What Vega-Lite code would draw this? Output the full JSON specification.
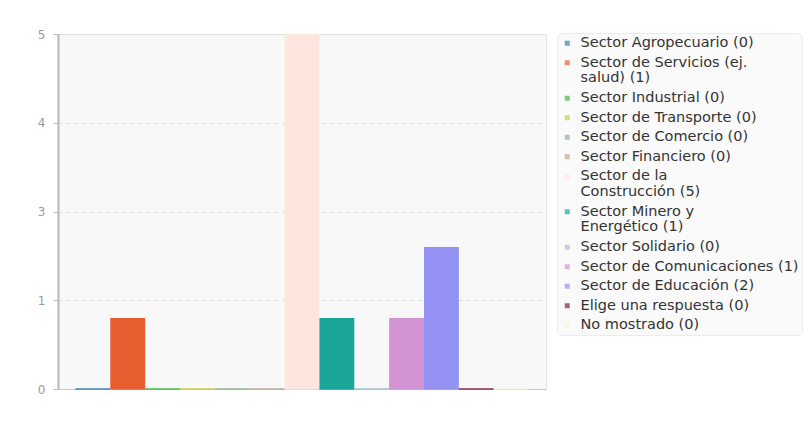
{
  "$schema": "https://vega.github.io/schema/vega-lite/v6.json",
  "autosize": {"type": "none"},
  "width": 488,
  "height": 355,
  "padding": {"left": 58, "top": 34, "right": 265, "bottom": 55},
  "background": "#ffffff",
  "config": {
    "font": "DejaVu Sans",
    "view": {"fill": "#f8f8f8", "stroke": "#e2e2e2", "strokeWidth": 1},
    "style": {"guide-label": {"lineHeight": 15.5}}
  },
  "data": {
    "values": [
      {"sector": "Sector Agropecuario (0)", "cantidad": 0},
      {"sector": "Sector de Servicios (ej. salud) (1)", "cantidad": 1},
      {"sector": "Sector Industrial (0)", "cantidad": 0},
      {"sector": "Sector de Transporte (0)", "cantidad": 0},
      {"sector": "Sector de Comercio (0)", "cantidad": 0},
      {"sector": "Sector Financiero (0)", "cantidad": 0},
      {"sector": "Sector de la Construcción (5)", "cantidad": 5},
      {"sector": "Sector Minero y Energético (1)", "cantidad": 1},
      {"sector": "Sector Solidario (0)", "cantidad": 0},
      {"sector": "Sector de Comunicaciones (1)", "cantidad": 1},
      {"sector": "Sector de Educación (2)", "cantidad": 2},
      {"sector": "Elige una respuesta (0)", "cantidad": 0},
      {"sector": "No mostrado (0)", "cantidad": 0}
    ]
  },
  "encoding": {
    "x": {
      "field": "sector",
      "type": "nominal",
      "sort": null,
      "scale": {"paddingInner": 0, "paddingOuter": 0.5},
      "axis": {"title": null, "labels": false, "ticks": false, "domainColor": "#c8c8c8", "domainWidth": 1}
    },
    "y": {
      "field": "cantidad",
      "type": "quantitative",
      "scale": {"domain": [0, 5], "nice": false},
      "axis": {
        "title": null,
        "values": [0, 1.25, 2.5, 3.75, 5],
        "labelExpr": "'' + round(datum.value)",
        "labelColor": "#9a9a9a",
        "labelFontSize": 12,
        "labelPadding": 8,
        "tickColor": "#b8b8b8",
        "tickSize": 5,
        "domainColor": "#b8b8b8",
        "domainWidth": 2,
        "grid": true,
        "gridColor": "#dcdcdc",
        "gridDash": [4, 4]
      }
    },
    "color": {
      "field": "sector",
      "type": "nominal",
      "sort": null,
      "scale": {
        "domain": [
          "Sector Agropecuario (0)",
          "Sector de Servicios (ej. salud) (1)",
          "Sector Industrial (0)",
          "Sector de Transporte (0)",
          "Sector de Comercio (0)",
          "Sector Financiero (0)",
          "Sector de la Construcción (5)",
          "Sector Minero y Energético (1)",
          "Sector Solidario (0)",
          "Sector de Comunicaciones (1)",
          "Sector de Educación (2)",
          "Elige una respuesta (0)",
          "No mostrado (0)"
        ],
        "range": ["#3a80b2", "#e85d30", "#3dbb3d", "#c9cc3c", "#8fb58f", "#bca98f", "#fde6de", "#1aa59a", "#a8bed4", "#d294d3", "#9391f1", "#8e2142", "#f6f5d6"]
      },
      "legend": {
        "title": null,
        "orient": "none",
        "legendX": 499,
        "legendY": -1,
        "symbolType": "square",
        "symbolSize": 25,
        "symbolStrokeWidth": 0,
        "labelFont": "DejaVu Sans",
        "labelFontSize": 14.5,
        "labelColor": "#333333",
        "labelLimit": 300,
        "labelOffset": 6,
        "rowPadding": 4.5,
        "padding": 3,
        "fillColor": "#fafafa",
        "strokeColor": "#ececec",
        "cornerRadius": 5,
        "labelExpr": "split(replace(replace(replace(datum.label, 'Servicios (ej. ', 'Servicios (ej.|'), 'de la ', 'de la|'), 'Minero y ', 'Minero y|'), '|')"
      }
    }
  },
  "layer": [
    {
      "mark": {"type": "bar"}
    },
    {
      "mark": {"type": "tick", "thickness": 2, "size": 34.8},
      "encoding": {
        "y": {"datum": 0, "type": "quantitative"}
      }
    }
  ]
}
